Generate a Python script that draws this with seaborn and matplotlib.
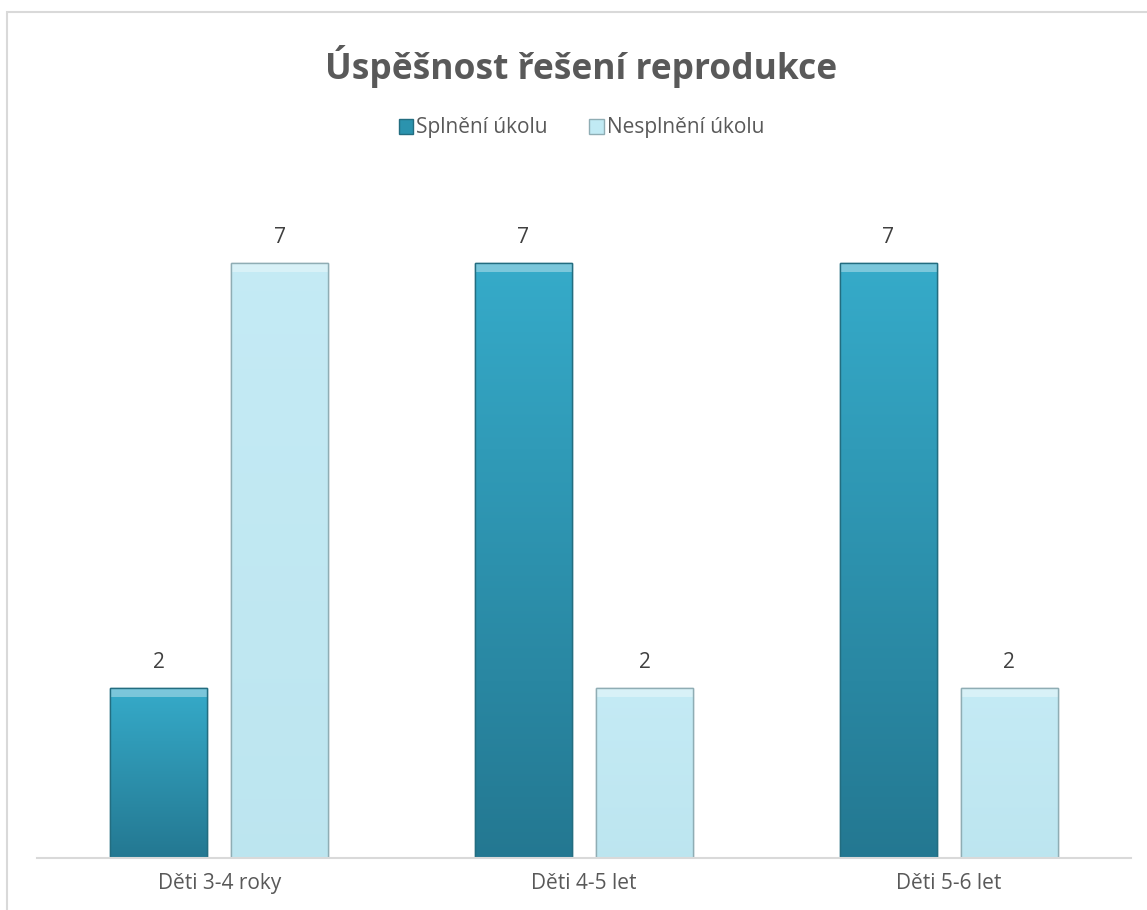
import numpy as np
import pandas as pd
import matplotlib
matplotlib.use("Agg")
import matplotlib.pyplot as plt
from matplotlib.patches import Rectangle
import seaborn as sns

# Data
categories = ["Děti 3-4 roky", "Děti 4-5 let", "Děti 5-6 let"]
series = ["Splnění úkolu", "Nesplnění úkolu"]
splneni = [2, 7, 7]
nesplneni = [7, 2, 2]

df = pd.DataFrame({
    "kategorie": categories * 2,
    "serie": [series[0]] * 3 + [series[1]] * 3,
    "hodnota": splneni + nesplneni,
})

sns.set_theme(style="white")
plt.rcParams["font.family"] = ["Open Sans", "DejaVu Sans"]

W, H = 1147, 910
fig = plt.figure(figsize=(W / 100, H / 100), dpi=100)
ax = fig.add_axes([37 / W, (H - 858) / H, (1131 - 37) / W, (858 - 178) / H])

palette = {series[0]: "#2b93ae", series[1]: "#c1eaf4"}
sns.barplot(data=df, x="kategorie", y="hodnota", hue="serie", order=categories,
            hue_order=series, palette=palette, width=0.664, gap=0.2,
            saturation=1, legend=False, ax=ax)

ax.set_ylim(0, 8)
ax.set_xlim(-0.5, 2.5)

# gradient / bevel look on the bars
grads = {
    series[0]: (np.array([0.21, 0.67, 0.79]), np.array([0.14, 0.47, 0.57])),
    series[1]: (np.array([0.77, 0.92, 0.96]), np.array([0.74, 0.90, 0.94])),
}
edges = {series[0]: "#236d80", series[1]: "#8fadb4"}
n = len(categories)
for i, bar in enumerate(ax.patches[: 2 * n]):
    s = series[i // n]
    top_c, bot_c = grads[s]
    x0, y0 = bar.get_x(), bar.get_y()
    w, h = bar.get_width(), bar.get_height()
    t = np.linspace(0, 1, 256)[:, None]
    img = top_c[None, :] * (1 - t[..., None]) + bot_c[None, :] * t[..., None]
    img = np.repeat(img, 2, axis=1)
    im = ax.imshow(img, extent=[x0, x0 + w, y0, y0 + h], origin="upper",
                   aspect="auto", zorder=bar.get_zorder() + 0.1)
    im.set_clip_path(bar)
    bar.set_edgecolor(edges[s])
    bar.set_linewidth(1.0)
    # highlight at top edge (bevel)
    ax.add_patch(Rectangle((x0, y0 + h - 0.1), w, 0.1, facecolor="white",
                           alpha=0.35, edgecolor="none",
                           zorder=bar.get_zorder() + 0.2))
    ax.add_patch(Rectangle((x0, y0), w, h, facecolor="none",
                           edgecolor=edges[s], linewidth=1.0,
                           zorder=bar.get_zorder() + 0.3))
    ax.text(x0 + w / 2, y0 + h + 0.18, f"{int(h)}", ha="center", va="bottom",
            fontsize=15, color="#404040")

ax.set_xlabel("")
ax.set_ylabel("")
ax.set_yticks([])
ax.tick_params(axis="x", length=0, labelsize=15, labelcolor="#595959", pad=11)
for side in ["top", "right", "left"]:
    ax.spines[side].set_visible(False)
ax.spines["bottom"].set_color("#d9d9d9")
ax.spines["bottom"].set_linewidth(1.5)

# legend
handles = [Rectangle((0, 0), 1, 1, facecolor=palette[s], edgecolor=edges[s])
           for s in series]
fig.legend(handles, series, loc="center", bbox_to_anchor=(0.507, (H - 128) / H),
           ncol=2, frameon=False, fontsize=15, labelcolor="#595959",
           handlelength=0.7, handleheight=0.7, handletextpad=0.15,
           columnspacing=2.0)

fig.text(0.507, (H - 67) / H, "Úspěšnost řešení reprodukce", ha="center",
         va="center", fontsize=25.5, fontweight="bold", color="#595959")

# chart border
fig.add_artist(Rectangle((7 / W, -0.1), 1.2, (H - 12) / H + 0.1,
                         transform=fig.transFigure, facecolor="none",
                         edgecolor="#d9d9d9", linewidth=1.5))

fig.savefig("out.png", dpi=100)
